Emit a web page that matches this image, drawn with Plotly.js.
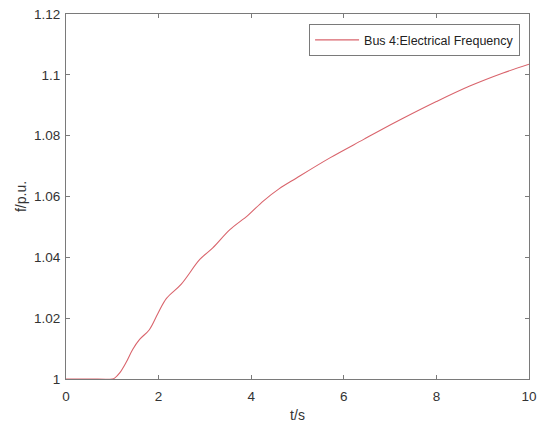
<!DOCTYPE html>
<html>
<head>
<meta charset="utf-8">
<script src="https://cdn.plot.ly/plotly-3.0.1.min.js"></script>
<style>
  html, body { margin: 0; padding: 0; background: #fff; }
  #chart { width: 550px; height: 432px; }
</style>
</head>
<body>
<div id="chart"></div>
<script>
// Bus 4 electrical frequency response
const timeS = [0, 0.5, 1.0, 1.05, 1.16, 1.3, 1.44, 1.59, 1.8, 1.99, 2.17, 2.49, 2.89, 3.17, 3.54, 3.93,
  4.26, 4.6, 4.98, 5.70, 6.42, 6.78, 7.28, 8.00, 8.72, 9.44, 10.0];
const freqPu = [1, 1, 1, 1.0003, 1.002, 1.0055, 1.0097, 1.013, 1.0162, 1.0217, 1.0265, 1.0312, 1.0393, 1.0431, 1.0491, 1.0538,
  1.0585, 1.0625, 1.0661, 1.0727, 1.0787, 1.0817, 1.0857, 1.0912, 1.0963, 1.1006, 1.1035];
const xTicks = [0, 2, 4, 6, 8, 10];
const yTicks = [1, 1.02, 1.04, 1.06, 1.08, 1.1, 1.12];
const yTickLabels = ['1', '1.02', '1.04', '1.06', '1.08', '1.1', '1.12'];
const seriesName = 'Bus 4:Electrical Frequency';

const AXIS_COLOR = '#7a7a7a';
const FONT = 'Liberation Sans, Arial, sans-serif';

const trace = {
  x: timeS, y: freqPu, type: 'scatter', mode: 'lines',
  name: seriesName,
  line: { color: '#d9646c', width: 1.1, shape: 'spline', smoothing: 1 },
  showlegend: true
};

const axisBase = {
  showline: true, linecolor: AXIS_COLOR, linewidth: 1, mirror: 'ticks',
  ticks: 'inside', ticklen: 4, tickcolor: AXIS_COLOR, tickwidth: 1,
  showgrid: false, zeroline: false,
  tickfont: { family: FONT, size: 13.5, color: '#333' }
};

const layout = {
  width: 550, height: 432,
  paper_bgcolor: '#fff', plot_bgcolor: '#fff',
  margin: { l: 66, r: 21, t: 14, b: 53 },
  font: { family: FONT, color: '#333' },
  xaxis: {
    ...axisBase,
    range: [0, 10], tickvals: xTicks,
    ticklabelstandoff: 5,
    title: { text: 't/s', font: { family: FONT, size: 14, color: '#333' }, standoff: 6 }
  },
  yaxis: {
    ...axisBase,
    range: [1, 1.12], tickvals: yTicks, ticktext: yTickLabels,
    ticklabelstandoff: 2,
    title: { text: 'f/p.u.', font: { family: FONT, size: 14, color: '#333' }, standoff: 4 }
  },
  legend: {
    x: 0.525, y: 0.972, xanchor: 'left', yanchor: 'top',
    bgcolor: '#fff', bordercolor: AXIS_COLOR, borderwidth: 1,
    itemwidth: 44,
    font: { family: FONT, size: 12.5, color: '#222' }
  },
  showlegend: true
};

Plotly.newPlot('chart', [trace], layout, { displayModeBar: false, staticPlot: true });
</script>
</body>
</html>
